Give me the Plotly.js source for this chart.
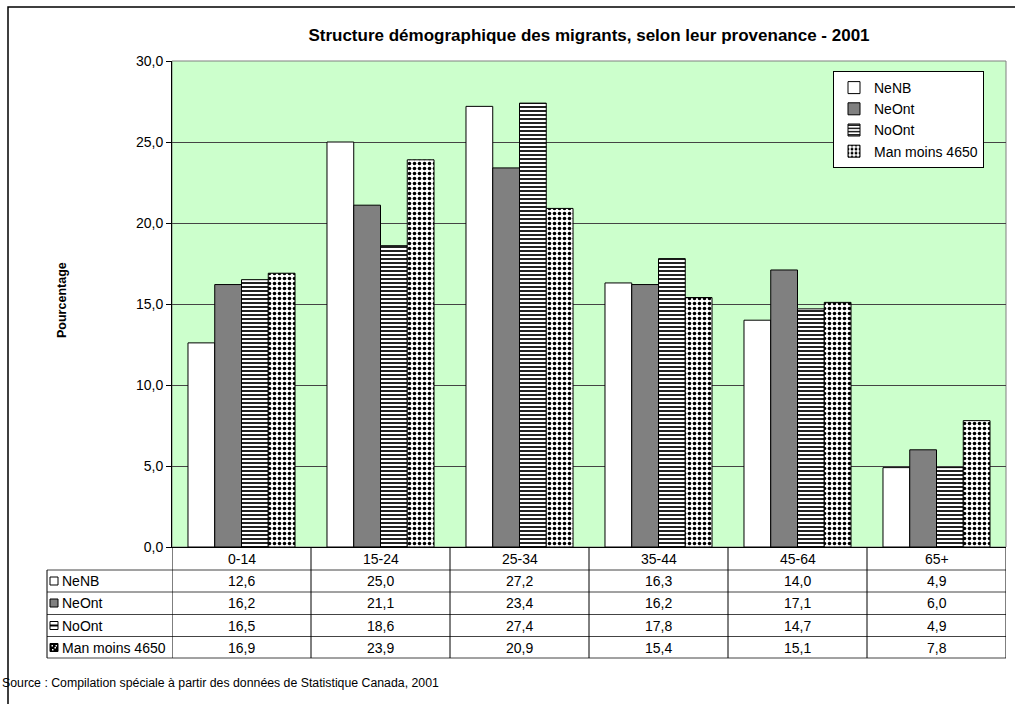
<!DOCTYPE html>
<html><head><meta charset="utf-8">
<script src="https://cdn.plot.ly/plotly-3.0.1.min.js"></script>
<style>html,body{margin:0;padding:0;background:#fff}</style>
</head><body>
<div id="chart" style="width:1015px;height:704px"></div>
<script>
const categories = ['0-14','15-24','25-34','35-44','45-64','65+'];
const seriesNames = ['NeNB','NeOnt','NoOnt','Man moins 4650'];
const NeNB = [12.6,25.0,27.2,16.3,14.0,4.9];
const NeOnt = [16.2,21.1,23.4,16.2,17.1,6.0];
const NoOnt = [16.5,18.6,27.4,17.8,14.7,4.9];
const ManMoins4650 = [16.9,23.9,20.9,15.4,15.1,7.8];
const yTicks = [0,5,10,15,20,25,30];
const titleText = 'Structure démographique des migrants, selon leur provenance - 2001';
const yTitle = 'Pourcentage';
const sourceText = 'Source : Compilation spéciale à partir des données de Statistique Canada, 2001';

const seriesValues = [NeNB, NeOnt, NoOnt, ManMoins4650];

const W = 1015, H = 704;
const L = 172, R = 1006, T = 61, B = 547;
const px = x => (x - L) / (R - L);
const py = y => (B - y) / (B - T);
const FONT = 'Liberation Sans, Arial, sans-serif';
const FS = 14;

const markers = [
  {color:'#ffffff', line:{color:'#000', width:1}},
  {color:'#808080', line:{color:'#000', width:1}},
  {color:'#ffffff', line:{color:'#000', width:1}, pattern:{shape:'-', fgcolor:'#222', bgcolor:'#ffffff', size:4, solidity:0.5, fillmode:'replace'}},
  {color:'#ffffff', line:{color:'#000', width:1}, pattern:{shape:'.', fgcolor:'#000', bgcolor:'#ffffff', size:5, solidity:0.4, fillmode:'replace'}}
];

const traces = seriesNames.map((n, i) => ({
  type:'bar', name:n, x:categories, y:seriesValues[i], marker:markers[i],
  legendgroup:'g'+i, hoverinfo:'skip'
}));

const fmt = v => v.toFixed(1).replace('.', ',');

const shapes = [];
const annotations = [];

shapes.push({type:'rect', xref:'paper', yref:'paper', x0:0, x1:1, y0:0, y1:1, line:{color:'#808080', width:1}, layer:'below'});
shapes.push({type:'rect', xref:'paper', yref:'paper', x0:px(8), x1:px(1030), y0:py(7), y1:py(720), line:{color:'#000', width:1.5}});

const rowLines = [570, 592, 614.5, 636.5, 658];
rowLines.forEach(y => shapes.push({type:'line', xref:'paper', yref:'paper', x0:px(47), x1:1, y0:py(y), y1:py(y), line:{color:'#444', width:1}}));
shapes.push({type:'line', xref:'paper', yref:'paper', x0:px(47), x1:px(47), y0:py(570), y1:py(658), line:{color:'#000', width:1}});
for (let i = 0; i <= categories.length; i++) {
  shapes.push({type:'line', xref:'x', yref:'paper', x0:i-0.5, x1:i-0.5, y0:py(547), y1:py(658), line:{color:'#000', width:1}});
}
categories.forEach(c => annotations.push({xref:'x', yref:'paper', x:c, y:py(558.5), text:c, showarrow:false, font:{family:FONT, size:FS, color:'#000'}, xanchor:'center', yanchor:'middle'}));
const rowCenters = [581, 603, 625.5, 647.5];
seriesNames.forEach((n, r) => {
  annotations.push({xref:'paper', yref:'paper', x:px(60), y:py(rowCenters[r]), text:n, showarrow:false, font:{family:FONT, size:FS, color:'#000'}, xanchor:'left', yanchor:'middle'});
  seriesValues[r].forEach((v, k) => annotations.push({xref:'x', yref:'paper', x:categories[k], y:py(rowCenters[r]), text:fmt(v), showarrow:false, font:{family:FONT, size:FS, color:'#000'}, xanchor:'center', yanchor:'middle'}));
  const cy = rowCenters[r];
  const x0 = 50, x1 = 58, y0 = cy - 4, y1 = cy + 4;
  const fills = ['#ffffff', '#808080', '#ffffff', '#000000'];
  shapes.push({type:'rect', xref:'paper', yref:'paper', x0:px(x0), x1:px(x1), y0:py(y0), y1:py(y1), fillcolor:fills[r], line:{color:'#000', width:1}});
  if (r === 2) {
    shapes.push({type:'line', xref:'paper', yref:'paper', x0:px(x0), x1:px(x1), y0:py(cy), y1:py(cy), line:{color:'#000', width:2}});
  }
  if (r === 3) {
    [[51.5,y0+1.5],[54.5,y0+3.5],[52,y0+5.5],[55.5,y0+1.5]].forEach(p => shapes.push({type:'rect', xref:'paper', yref:'paper', x0:px(p[0]), x1:px(p[0]+1.5), y0:py(p[1]), y1:py(p[1]+1.5), fillcolor:'#fff', line:{width:0}}));
  }
});

annotations.push({xref:'paper', yref:'paper', x:px(62), y:py(300), text:'<b>'+yTitle+'</b>', textangle:-90, showarrow:false, font:{family:FONT, size:12.5, color:'#000'}, xanchor:'center', yanchor:'middle'});
annotations.push({xref:'paper', yref:'paper', x:px(0), y:py(683), text:sourceText, showarrow:false, font:{family:FONT, size:12.3, color:'#000'}, xanchor:'left', yanchor:'middle'});

const layout = {
  width:W, height:H,
  margin:{l:L, r:W-R, t:T, b:H-B, pad:0},
  paper_bgcolor:'#ffffff', plot_bgcolor:'#CCFFCC',
  separators:', ',
  font:{family:FONT, size:FS, color:'#000'},
  title:{text:'<b>'+titleText+'</b>', x:589/W, xanchor:'center', y:1-35/H, yanchor:'middle', font:{family:FONT, size:17, color:'#000'}},
  barmode:'group', bargap:0.23, bargroupgap:0,
  xaxis:{type:'category', categoryorder:'array', categoryarray:categories, range:[-0.5, categories.length-0.5], showticklabels:false, ticks:'', showgrid:false, showline:true, linecolor:'#000', linewidth:1, zeroline:false, fixedrange:true},
  yaxis:{range:[0,30], tickvals:yTicks, tickformat:'.1f', ticks:'outside', ticklen:5, tickcolor:'#000', showline:true, linecolor:'#000', linewidth:1, showgrid:true, gridcolor:'#444', gridwidth:1, zeroline:false, tickfont:{family:FONT, size:FS, color:'#000'}, fixedrange:true},
  legend:{x:px(833), y:py(71), xanchor:'left', yanchor:'top', bgcolor:'#ffffff', bordercolor:'#000', borderwidth:1, font:{family:FONT, size:FS, color:'#000'}, tracegroupgap:1, itemwidth:30, traceorder:'normal', entrywidth:135},
  shapes:shapes, annotations:annotations
};

Plotly.newPlot('chart', traces, layout, {displayModeBar:false, staticPlot:true});
</script>
</body></html>
